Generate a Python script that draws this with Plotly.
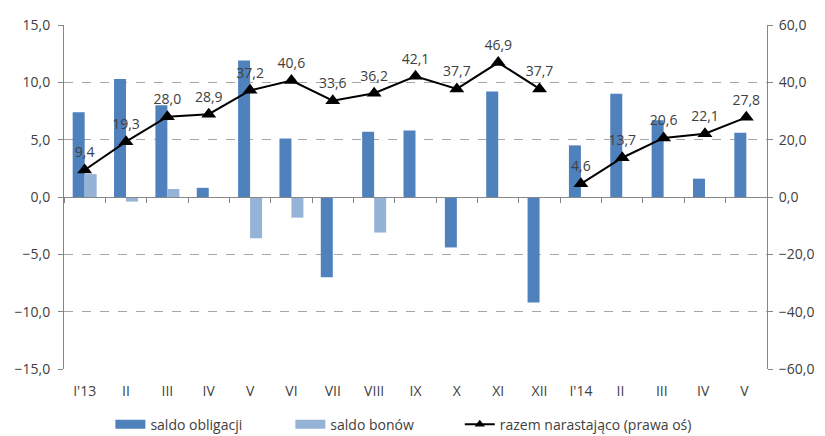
import plotly.graph_objects as go

months = ["I'13", "II", "III", "IV", "V", "VI", "VII", "VIII", "IX", "X", "XI", "XII",
          "I'14", "II ", "III ", "IV ", "V "]
saldo_obligacji = [7.4, 10.3, 8.0, 0.8, 11.9, 5.1, -7.0, 5.7, 5.8, -4.4, 9.2, -9.2,
                   4.5, 9.0, 6.7, 1.6, 5.6]
saldo_bonow = [2.0, -0.4, 0.7, None, -3.6, -1.8, None, -3.1, None, None, None, None,
               None, None, None, None, None]
razem_1 = [9.4, 19.3, 28.0, 28.9, 37.2, 40.6, 33.6, 36.2, 42.1, 37.7, 46.9, 37.7,
           None, None, None, None, None]
razem_2 = [None] * 12 + [4.6, 13.7, 20.6, 22.1, 27.8]

FONT = "Open Sans"
TXT = "#404040"
DARK = "#4F81BD"
LIGHT = "#95B3D7"
AXIS = "#868686"
FS = 14


def fmt(v):
    return "" if v is None else f"{v:.1f}".replace(".", ",")


fig = go.Figure()
fig.add_trace(go.Bar(x=months, y=saldo_obligacji, name="saldo obligacji",
                     marker=dict(color=DARK, line=dict(width=0)), showlegend=False))
fig.add_trace(go.Bar(x=months, y=saldo_bonow, name="saldo bonów",
                     marker=dict(color=LIGHT, line=dict(width=0)), showlegend=False))

# cumulative total on the right axis, broken between the two years
for series in [razem_1, razem_2]:
    fig.add_trace(go.Scatter(
        x=months, y=series, xaxis="x2", yaxis="y2", mode="lines+markers+text",
        name="razem narastająco (prawa oś)",
        line=dict(color="black", width=2),
        marker=dict(symbol="triangle-up", size=13, color="black"),
        text=[fmt(v) for v in series], textposition="top center",
        textfont=dict(family=FONT, size=FS, color=TXT),
        showlegend=False, connectgaps=False, cliponaxis=False))

# legend entries drawn as wide swatches, each in its own legend box
fig.add_trace(go.Scatter(x=[months[0]], y=[None], mode="lines", name="saldo obligacji",
                         line=dict(color=DARK, width=9), legend="legend"))
fig.add_trace(go.Scatter(x=[months[0]], y=[None], mode="lines", name="saldo bonów",
                         line=dict(color=LIGHT, width=9), legend="legend2"))
fig.add_trace(go.Scatter(x=[months[0]], y=[None], mode="lines+markers",
                         name="razem narastająco (prawa oś)",
                         line=dict(color="black", width=2),
                         marker=dict(symbol="triangle-up", size=9, color="black"),
                         legend="legend3"))

grid = dict(showgrid=True, gridcolor="#a6a6a6", griddash="dash", gridwidth=1)
leg = dict(orientation="h", xanchor="left", y=-0.208, yanchor="bottom",
           font=dict(family=FONT, size=FS, color=TXT), bgcolor="rgba(0,0,0,0)")

fig.update_layout(
    width=825, height=436,
    margin=dict(l=64, r=58, t=25, b=67, autoexpand=False),
    paper_bgcolor="white", plot_bgcolor="white",
    separators=", ",
    barmode="group", bargap=0.42, bargroupgap=0,
    font=dict(family=FONT, size=FS, color=TXT),
    xaxis=dict(type="category", range=[-0.5, len(months) - 0.5], autorange=False,
               showline=False, ticks="", showgrid=False, ticklabelstandoff=12,
               tickfont=dict(family=FONT, size=FS, color=TXT)),
    xaxis2=dict(type="category", overlaying="x", matches="x", anchor="free",
                position=0.5, side="bottom", showticklabels=False,
                showline=True, linecolor=AXIS, linewidth=1,
                ticks="outside", ticklen=5, tickcolor=AXIS,
                tickson="boundaries", showgrid=False),
    yaxis=dict(range=[-15, 15], dtick=5, tickformat=".1f", zeroline=False,
               showline=True, linecolor=AXIS, ticks="outside", ticklen=5,
               tickcolor=AXIS, ticklabelstandoff=5,
               tickfont=dict(family=FONT, size=FS, color=TXT), **grid),
    yaxis2=dict(range=[-60, 60], dtick=20, tickformat=".1f", overlaying="y",
                side="right", zeroline=False, showgrid=False,
                showline=True, linecolor=AXIS, ticks="outside", ticklen=5,
                tickcolor=AXIS, ticklabelstandoff=3,
                tickfont=dict(family=FONT, size=FS, color=TXT)),
    legend=dict(x=0.066, **leg),
    legend2=dict(x=0.322, **leg),
    legend3=dict(x=0.563, **leg),
)

fig.write_html("out.html")
